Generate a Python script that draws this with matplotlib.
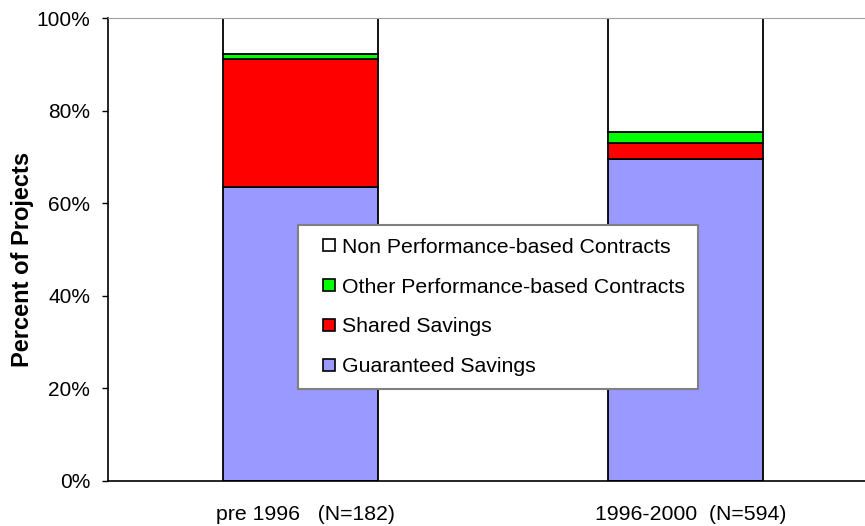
import numpy as np
import matplotlib.pyplot as plt
import matplotlib.transforms as mtransforms
from matplotlib.patches import Rectangle
from matplotlib.legend_handler import HandlerPatch
from matplotlib.ticker import PercentFormatter

plt.rcParams['font.family'] = ['Liberation Sans', 'DejaVu Sans']

# Categories and stacked shares (percent of projects)
CATEGORIES = ['pre 1996   (N=182)', '1996-2000  (N=594)']
guaranteed = [63.5, 69.6]
shared = [27.7, 3.3]
other_perf = [1.1, 2.5]
non_perf = [7.7, 24.6]

SERIES = [
    ('Guaranteed Savings', guaranteed, '#9999FF'),
    ('Shared Savings', shared, '#FF0000'),
    ('Other Performance-based Contracts', other_perf, '#00FF00'),
    ('Non Performance-based Contracts', non_perf, '#FFFFFF'),
]


# small square legend key, pushed to the right of the handle box
def square_key(legend, orig_handle, xdescent, ydescent, width, height, fontsize):
    s = 0.56 * fontsize
    return Rectangle((-xdescent + width - s, -ydescent + (height - s) / 2), s, s)


def main():
    fig = plt.figure(figsize=(8.65, 5.26), dpi=100)
    ax = fig.add_axes([108 / 865, 45 / 526, 757 / 865, 463 / 526])

    x = np.arange(len(CATEGORIES))
    bottom = np.zeros(len(CATEGORIES))
    handles = []
    for label, vals, color in SERIES:
        bars = ax.bar(x, vals, width=0.403, bottom=bottom, color=color,
                      edgecolor='black', linewidth=1.3, label=label, zorder=2)
        bottom += np.array(vals)
        handles.append(bars[0])

    ax.set_xlim(-0.501, 1.467)
    ax.set_ylim(0, 100)
    ax.set_yticks(np.arange(0, 101, 20))
    ax.yaxis.set_major_formatter(PercentFormatter(decimals=0))
    ax.set_xticks(x)
    ax.set_xticklabels(CATEGORIES, fontsize=15.3)
    ax.tick_params(axis='x', length=0, pad=17)
    ax.tick_params(axis='y', labelsize=15, length=4.3, width=1, pad=8.4,
                   direction='out')

    # category labels sit a little right of the bar centres
    shift = mtransforms.ScaledTranslation(5 / 100, 0, fig.dpi_scale_trans)
    for lbl in ax.get_xticklabels():
        lbl.set_transform(lbl.get_transform() + shift)

    ax.set_ylabel('Percent of Projects', fontsize=17, fontweight='bold')
    ax.yaxis.set_label_coords(-0.098, 0.478)

    ax.spines['right'].set_visible(False)
    ax.spines['top'].set_color('#A0A0A0')
    ax.spines['left'].set_linewidth(1.2)
    ax.spines['bottom'].set_linewidth(1.2)

    leg = ax.legend(handles[::-1], [s[0] for s in SERIES][::-1],
                    loc='upper left', bbox_to_anchor=(0.251, 0.553),
                    fontsize=15.3, fancybox=False, framealpha=1,
                    edgecolor='#808080', handlelength=1.14, handleheight=0.7,
                    handletextpad=0.34, labelspacing=0.98, borderpad=0.6,
                    borderaxespad=0,
                    handler_map={Rectangle: HandlerPatch(patch_func=square_key)})
    leg.get_frame().set_linewidth(1.5)
    for h in leg.legend_handles:
        h.set_linewidth(1.2)

    fig.savefig('out.png', dpi=100)


if __name__ == "__main__":
    main()
